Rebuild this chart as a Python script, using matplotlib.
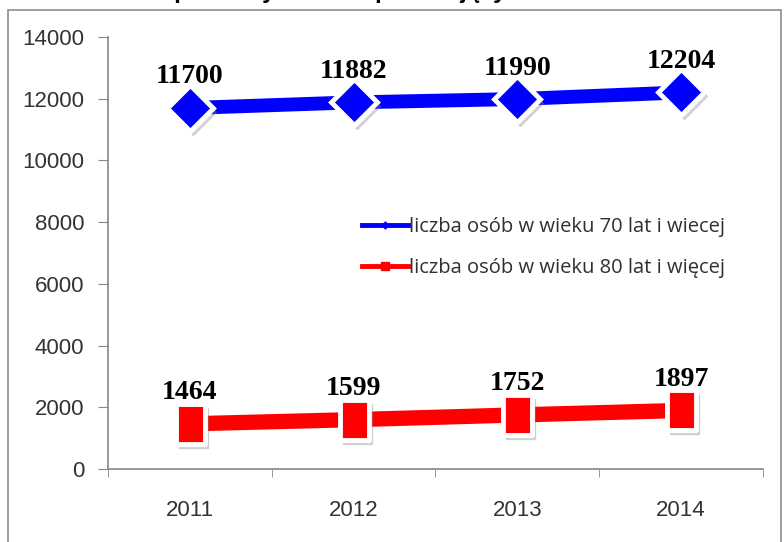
import matplotlib.pyplot as plt
import matplotlib.transforms as mtransforms
from matplotlib.patches import Rectangle

years = ["2011", "2012", "2013", "2014"]
over70 = [11700, 11882, 11990, 12204]
over80 = [1464, 1599, 1752, 1897]
labels = ["liczba osób w wieku 70 lat i wiecej", "liczba osób w wieku 80 lat i więcej"]
yticks = [0, 2000, 4000, 6000, 8000, 10000, 12000, 14000]

fig = plt.figure(figsize=(7.84, 5.42), dpi=100)
ax = fig.add_axes([0.1378, 0.1347, 0.8352, 0.797])

# outer chart border
fig.patches.append(Rectangle((0.0105, -0.01), 0.986, 0.9915, transform=fig.transFigure,
                             fill=False, edgecolor="#8c8c8c", linewidth=1.2))
# title, mostly above the visible area
fig.text(0.5, 1.003, "Liczba osób w podeszłym wieku pobierających świadczenia w latach",
         ha="center", va="baseline", fontsize=17, fontweight="bold", family="Liberation Sans")

x = list(range(len(years)))
tall_square = [(-0.72, -1), (0.72, -1), (0.72, 1), (-0.72, 1), (-0.72, -1)]
shift = mtransforms.ScaledTranslation(3 / 100, -4 / 100, fig.dpi_scale_trans)

ax.plot(x, over70, color="#0000ff", linewidth=10, solid_capstyle="butt", zorder=2)
ax.plot(x, over70, linestyle="none", marker="D", markersize=23, markerfacecolor="#888888",
        markeredgecolor="#888888", alpha=0.3, transform=ax.transData + shift, zorder=2.5)
ax.plot(x, over70, linestyle="none", marker="D", markersize=23, markerfacecolor="#0000ff",
        markeredgecolor="white", markeredgewidth=3.5, zorder=3)

ax.plot(x, over80, color="#ff0000", linewidth=11, solid_capstyle="butt", zorder=2)
ax.plot(x, over80, linestyle="none", marker=tall_square, markersize=29, markerfacecolor="#888888",
        markeredgecolor="#888888", alpha=0.3, transform=ax.transData + shift, zorder=2.5)
ax.plot(x, over80, linestyle="none", marker=tall_square, markersize=29, markerfacecolor="#ff0000",
        markeredgecolor="white", markeredgewidth=3.5, zorder=3)

# legend handles
h1, = ax.plot([], [], color="#0000ff", linewidth=3.5, marker="D", markersize=3.5)
h2, = ax.plot([], [], color="#ff0000", linewidth=3.5, marker="s", markersize=6)
ax.legend([h1, h2], labels, loc="upper left", bbox_to_anchor=(0.36, 0.625), frameon=False,
          handlelength=2.3, handletextpad=0.05, labelspacing=1.05,
          prop={"family": "Open Sans", "size": 14.5}, labelcolor="#303030")

for xi, v in zip(x, over70):
    ax.text(xi, v + 600, str(v), ha="center", va="bottom", fontsize=20, fontweight="bold",
            family="Liberation Serif")
for xi, v in zip(x, over80):
    ax.text(xi, v + 600, str(v), ha="center", va="bottom", fontsize=20, fontweight="bold",
            family="Liberation Serif")

ax.set_xlim(-0.5, 3.5)
ax.set_ylim(0, 14000)
ax.set_yticks(yticks)
ax.set_xticks(x)
ax.set_xticklabels(years)
ax.set_xticks([-0.5, 0.5, 1.5, 2.5, 3.5], minor=True)
ax.tick_params(axis="x", which="major", length=0, pad=22)
ax.tick_params(axis="x", which="minor", length=6, color="#868686")
ax.tick_params(axis="y", length=7, color="#868686", pad=10)
for lab in ax.get_xticklabels() + ax.get_yticklabels():
    lab.set_family("Liberation Sans")
    lab.set_fontsize(16)
    lab.set_color("#333333")

for s in ["top", "right"]:
    ax.spines[s].set_visible(False)
for s in ["left", "bottom"]:
    ax.spines[s].set_color("#868686")
    ax.spines[s].set_linewidth(1.2)

fig.savefig("out.png", dpi=100)
